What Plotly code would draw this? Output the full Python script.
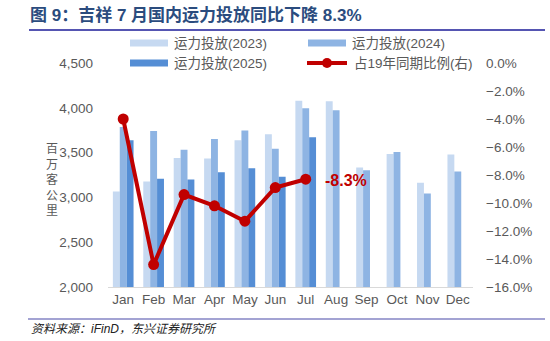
import plotly.graph_objects as go

months = ["Jan", "Feb", "Mar", "Apr", "May", "Jun", "Jul", "Aug", "Sep", "Oct", "Nov", "Dec"]
cap_2023 = [3067, 3178, 3441, 3433, 3637, 3704, 4078, 4072, 3333, 3485, 3163, 3478]
cap_2024 = [3786, 3741, 3533, 3652, 3748, 3544, 3996, 3974, 3304, 3507, 3044, 3289]
cap_2025 = [3637, 3208, 3200, 3281, 3326, 3230, 3670, None, None, None, None, None]
ratio_vs_2019 = [-4.0, -14.4, -9.4, -10.2, -11.3, -8.9, -8.3, None, None, None, None, None]

names = ["运力投放(2023)", "运力投放(2024)", "运力投放(2025)", "占19年同期比例(右)"]
colors = ["#C6D9F1", "#8EB4E3", "#558ED5", "#C00000"]
title = "图 9：吉祥 7 月国内运力投放同比下降 8.3%"
source = "资料来源：iFinD，东兴证券研究所"
ytitle = "百万客公里"

FONT = "Liberation Sans, Arial, Noto Sans CJK SC, sans-serif"
GRAY = "#595959"

W, H = 550, 341
ML, MR, MT, MB = 108, 77, 63, 54
PW, PH = W - ML - MR, H - MT - MB

def px(x):
    return (x - ML) / PW

def py(y):
    return (H - MB - y) / PH

fig = go.Figure()
for vals, nm, c in zip([cap_2023, cap_2024, cap_2025], names[:3], colors[:3]):
    fig.add_trace(go.Bar(x=months, y=vals, name=nm, marker_color=c, marker_line_width=0,
                         showlegend=False))

fig.add_trace(go.Scatter(x=months, y=ratio_vs_2019, name=names[3], yaxis="y2",
                         mode="lines+markers", line=dict(color=colors[3], width=4),
                         marker=dict(color=colors[3], size=11), showlegend=False,
                         cliponaxis=False))

last_idx = max(i for i, v in enumerate(ratio_vs_2019) if v is not None)
fig.add_annotation(x=months[last_idx], y=ratio_vs_2019[last_idx], xref="x", yref="y2",
                   text=f"{ratio_vs_2019[last_idx]:.1f}%", showarrow=False,
                   xanchor="left", xshift=17, yshift=-1,
                   font=dict(family=FONT, size=16, color=colors[3], weight="bold"))

# Custom legend (2 columns x 2 rows)
legend_pos = [(130, 43), (308, 43), (130, 63), (307, 63)]
for i, (nm, c) in enumerate(zip(names, colors)):
    lx, ly = legend_pos[i]
    if i < 3:
        fig.add_shape(type="rect", xref="paper", yref="paper",
                      x0=px(lx), x1=px(lx + 38), y0=py(ly + 3.5), y1=py(ly - 3.5),
                      fillcolor=c, line_width=0)
    else:
        fig.add_shape(type="line", xref="paper", yref="paper",
                      x0=px(lx), x1=px(lx + 40), y0=py(ly), y1=py(ly),
                      line=dict(color=c, width=4))
        fig.add_shape(type="circle", xref="paper", yref="paper",
                      x0=px(lx + 15), x1=px(lx + 25), y0=py(ly + 5), y1=py(ly - 5),
                      fillcolor=c, line_width=0)
    fig.add_annotation(x=px(lx + (42 if i < 3 else 45)), y=py(ly), xref="paper", yref="paper",
                       text=nm, showarrow=False, xanchor="left", yanchor="middle",
                       font=dict(family=FONT, size=13.5, color=GRAY))

# Title
fig.add_annotation(x=px(28), y=py(15), xref="paper", yref="paper", text=title,
                   showarrow=False, xanchor="left", yanchor="middle",
                   font=dict(family="Liberation Sans, Noto Sans CJK SC", size=17,
                             color="#2B4C7E", weight="bold"))
# Source
fig.add_annotation(x=px(29), y=py(329), xref="paper", yref="paper", text=source,
                   showarrow=False, xanchor="left", yanchor="middle",
                   font=dict(family="Liberation Sans, Noto Sans CJK SC", size=12,
                             color="#222222", style="italic"))
# Y-axis title (stacked vertically)
fig.add_annotation(x=px(52), y=py(178), xref="paper", yref="paper",
                   text="<br>".join(ytitle), showarrow=False,
                   xanchor="center", yanchor="middle",
                   font=dict(family="Noto Sans CJK SC", size=12, color=GRAY))

# Separator lines
fig.add_shape(type="line", xref="paper", yref="paper", x0=px(29), x1=px(545),
              y0=py(30), y1=py(30), line=dict(color="#1C1C99", width=1.5))
fig.add_shape(type="line", xref="paper", yref="paper", x0=px(28), x1=px(545),
              y0=py(319), y1=py(319), line=dict(color="#8484C4", width=1.5))

fig.update_layout(
    width=W, height=H,
    margin=dict(l=ML, r=MR, t=MT, b=MB, autoexpand=False),
    paper_bgcolor="white", plot_bgcolor="white",
    barmode="group", bargap=0.32, bargroupgap=0,
    font=dict(family=FONT, size=13.5, color=GRAY),
    xaxis=dict(range=[-0.5, len(months) - 0.5], showline=True, linecolor="#D9D9D9",
               linewidth=1, ticks="", tickfont=dict(size=13.5, color=GRAY),
               showgrid=False, fixedrange=True, automargin=False),
    yaxis=dict(range=[2000, 4500], dtick=500, tickformat=",", showgrid=False,
               zeroline=False, showline=False, ticks="", ticklabelstandoff=14,
               tickfont=dict(size=13.5, color=GRAY), automargin=False),
    yaxis2=dict(range=[-16, 0], dtick=2, overlaying="y", side="right",
                tickformat=".1f", ticksuffix="%", showgrid=False, zeroline=False,
                showline=False, ticks="", ticklabelstandoff=12,
                tickfont=dict(size=13.5, color=GRAY), automargin=False),
    showlegend=False,
)

fig.write_html("out.html")
